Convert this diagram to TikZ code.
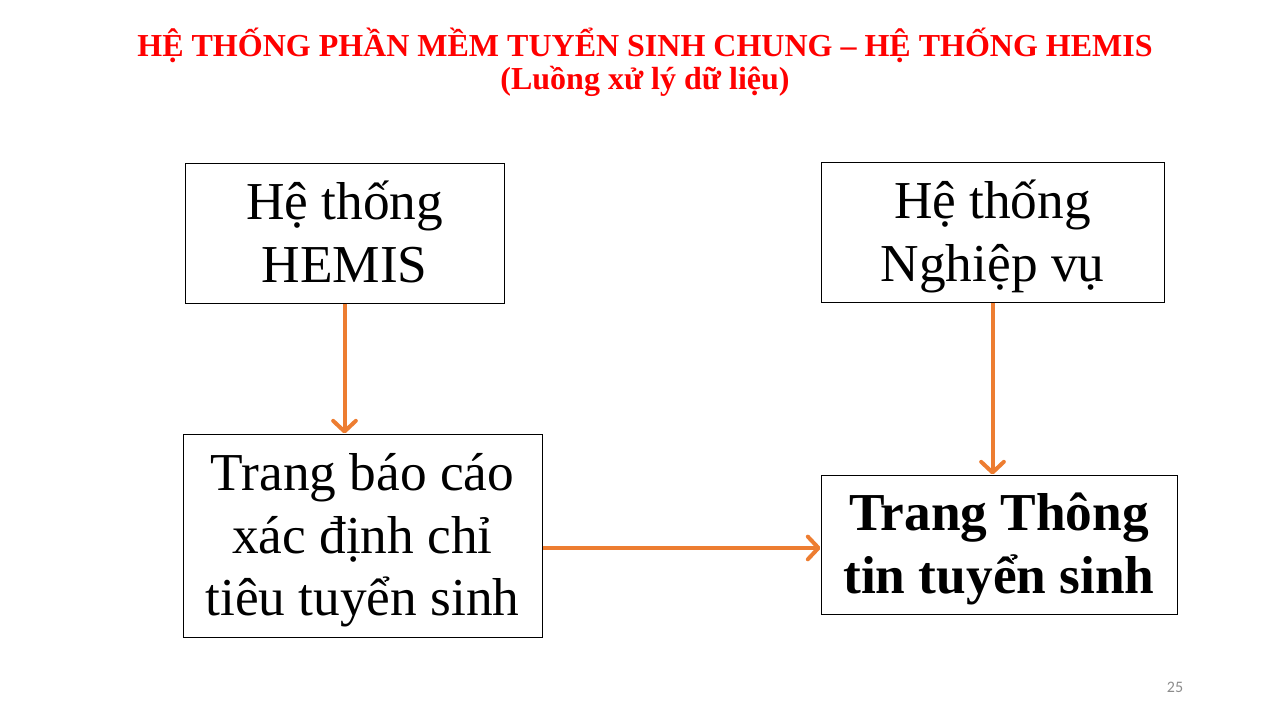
\documentclass[tikz,border=0pt]{standalone}
\usepackage{fontspec}
\setmainfont{Liberation Serif}
\newfontfamily\calibri{Carlito}
\usepackage{xcolor}
\definecolor{ff0000}{HTML}{ff0000}
\definecolor{ed7d31}{HTML}{ed7d31}
\definecolor{8c8c8c}{HTML}{8c8c8c}
\usepackage{tikz}
\usetikzlibrary{arrows.meta}
\newcommand{\firststrut}{\rule{0pt}{40.5pt}}
\newcommand{\laststrut}{\rule[-14.25pt]{0pt}{14.25pt}}

\begin{document}
\begin{tikzpicture}[x=0.75pt, y=-0.75pt,
            box/.style={draw, rectangle, line width=0.75pt, inner sep=0pt, align=center, font=\fontsize{40}{47}\selectfont},
            flow/.style={color=ed7d31, line width=3pt, -{Straight Barb[length=8pt, width=17pt, round]}}]
            \useasboundingbox (0, 0) rectangle (1280, 720);

            \node (title) at (645, 62) [color=ff0000, align=center, font=\bfseries\fontsize{24}{25}\selectfont] {HỆ THỐNG PHẦN MỀM TUYỂN SINH CHUNG – HỆ THỐNG HEMIS\\(Luồng xử lý dữ liệu)};

            \node (hemis) at (344.5, 233.5) [box, minimum width=239.25pt, minimum height=104.25pt] {\firststrut Hệ thống\\HEMIS\laststrut};
            \node (nv) at (992.5, 232.5) [box, minimum width=257.25pt, minimum height=104.25pt] {\firststrut Hệ thống\\Nghiệp vụ\laststrut};
            \node (bao) at (362.5, 535.5) [box, minimum width=269.25pt, minimum height=152.25pt] {\firststrut Trang báo cáo\\xác định chỉ\\tiêu tuyển sinh\laststrut};
            \node (tt) at (999, 544.5) [box, minimum width=267pt, minimum height=104.25pt, font=\bfseries\fontsize{40}{47}\selectfont] {\firststrut Trang Thông\\tin tuyển sinh\laststrut};

            \draw [flow] (hemis.south) -- (hemis.south |- bao.north);
            \draw [flow] (nv.south) -- (nv.south |- tt.north);
            \draw [flow] ([yshift=-2.6pt]bao.east |- tt.west) -- ([yshift=-2.6pt]tt.west);

            %\node (page) at (1175, 687) {25};
            \node (page) at (1175, 687) [color=8c8c8c, font=\calibri\fontsize{12}{14}\selectfont] {25};
        \end{tikzpicture}
\end{document}
